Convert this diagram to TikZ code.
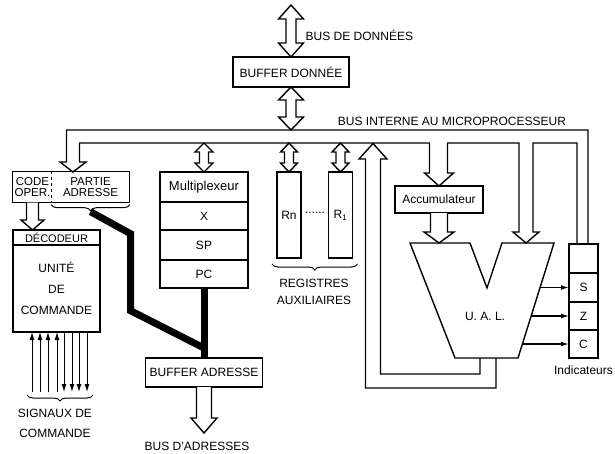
\documentclass[tikz,border=0pt]{standalone}
\usepackage{fontspec}
\setmainfont{Liberation Sans}
\usepackage{tikz}
\usetikzlibrary{calc,positioning,arrows.meta,decorations.pathreplacing}

% hollow double arrow: #1 top tip, #2 bottom tip, #3 half shaft, #4 half head, #5 head length
\newcommand{\dblbus}[5]{%
  \draw[fill=white] let \p1=(#1), \p2=(#2) in
    (\p1) -- (\x1+#4,\y1-#5) -- (\x1+#3,\y1-#5) -- (\x1+#3,\y2+#5)
    -- (\x1+#4,\y2+#5) -- (\x1,\y2) -- (\x1-#4,\y2+#5) -- (\x1-#3,\y2+#5)
    -- (\x1-#3,\y1-#5) -- (\x1-#4,\y1-#5) -- cycle;}
% hollow single arrow going down: #1 tail, #2 tip
\newcommand{\sglbus}[5]{%
  \draw[fill=white] let \p1=(#1), \p2=(#2) in
    (\x1-#3,\y1) -- (\x1-#3,\y2+#5) -- (\x1-#4,\y2+#5) -- (\x1,\y2)
    -- (\x1+#4,\y2+#5) -- (\x1+#3,\y2+#5) -- (\x1+#3,\y1);}

\begin{document}
\begin{tikzpicture}[x=1pt, y=-1pt, line width=1.4pt,
    font=\fontsize{12}{14}\selectfont,
    box/.style={draw, inner sep=0pt, outer sep=0pt, align=center},
    txt/.style={inner sep=0pt, align=center},
    flag/.style={-{Latex[length=8pt,width=5pt]}},
    addr/.style={line width=7pt},
    brc/.style={decorate, decoration={brace, amplitude=6pt}, line width=1pt}]
  \useasboundingbox (0,0) rectangle (615,453);

  % data bus
  \node[box, minimum width=116pt, minimum height=30pt] (bdd) at (291,72) {BUFFER DONNÉE};
  \coordinate (ext) at (291,5);
  \coordinate (busout) at (0,130);
  \coordinate (busin) at (0,143);
  \dblbus{ext}{bdd.north}{5pt}{12.5pt}{14pt}
  \dblbus{bdd.south}{bdd.south |- busout}{5pt}{12.5pt}{13pt}
  \node[txt, anchor=west] (lbdd) at (305,35) {BUS DE DONNÉES};
  \node[txt] (lbus) at (452,121) {BUS INTERNE AU MICROPROCESSEUR};

  % registre d'instruction
  \node[txt, minimum width=39pt, minimum height=30pt, font=\fontsize{11.5}{11.5}\selectfont] (code) at (32.5,187) {CODE\\OPER.};
  \node[txt, minimum width=77pt, minimum height=30pt, font=\fontsize{11.5}{11.5}\selectfont] (adr) at (90.5,187) {PARTIE\\ADRESSE};
  \draw (code.north west) rectangle (adr.south east);
  \draw[dashed, line width=0.8pt] (adr.north west) -- (adr.south west);
  \draw[brc] ($(adr.south east)+(0,2)$) -- ($(adr.south west)+(0,2)$);
  \coordinate (adrtip) at ($(adr.south)+(0,9)$);

  % unite de commande
  \node[box, minimum width=87pt, minimum height=15pt, font=\fontsize{11}{12}\selectfont] (dec) at (56.5,237.5) {DÉCODEUR};
  \node[box, minimum width=87pt, minimum height=87pt, below=0pt of dec, font=\fontsize{12}{21}\selectfont] (cu) {UNITÉ\\DE\\COMMANDE};
  \sglbus{code.south}{dec.north}{6pt}{11.5pt}{10pt}
  \coordinate (sigb) at (0,392);
  \foreach \x in {32,40,48,57}
    \draw[flag, line width=1pt] (sigb -| \x,0) -- (cu.south -| \x,0);
  \foreach \x in {64,72,79,87}
    \draw[flag, line width=1pt] (cu.south -| \x,0) -- (sigb -| \x,0);
  \draw[brc] (93,395) -- (27,395);
  \node[txt, font=\fontsize{12}{20}\selectfont] (lsig) at (55,423) {SIGNAUX DE\\COMMANDE};

  % multiplexeur
  \node[box, minimum width=88pt, minimum height=30pt, font=\fontsize{13}{14}\selectfont] (mux) at (204,187) {Multiplexeur};
  \node[box, minimum width=88pt, minimum height=28pt, below=0pt of mux] (regx) {X};
  \node[box, minimum width=88pt, minimum height=30pt, below=0pt of regx] (regsp) {SP};
  \node[box, minimum width=88pt, minimum height=28pt, below=0pt of regsp] (regpc) {PC};
  \dblbus{mux.north |- busin}{mux.north}{4.5pt}{9pt}{9pt}

  % registres auxiliaires
  \node[box, minimum width=24pt, minimum height=86pt] (rn) at (289,215) {Rn};
  \node[box, minimum width=24pt, minimum height=86pt] (r1) at (340.5,215) {R\textsubscript{1}};
  \node[txt] (dots) at (315,213) {......};
  \dblbus{rn.north |- busin}{rn.north}{4.5pt}{8.5pt}{9pt}
  \dblbus{r1.north |- busin}{r1.north}{4.5pt}{8.5pt}{9pt}
  \draw[brc] ($(r1.south east)+(5,6)$) -- ($(rn.south west)+(-5,6)$);
  \node[txt, font=\fontsize{12}{17}\selectfont] (lreg) at (314,292) {REGISTRES\\AUXILIAIRES};

  % buffer adresse
  \node[box, minimum width=117pt, minimum height=29pt] (bufa) at (204,372.5) {BUFFER ADRESSE};
  \coordinate (busa) at (204,433);
  \sglbus{bufa.south}{busa}{7.5pt}{13pt}{15pt}
  \node[txt] (lbusa) at (197,446) {BUS D'ADRESSES};
  \coordinate (pcjoin) at ($(regpc.south)!0.857!(bufa.north)$);
  \draw[addr] (adrtip) -- ++(40,22) -- ++(0,77) -- (pcjoin);
  \draw[addr] (regpc.south) -- (bufa.north);

  % accumulateur et UAL
  \node[box, minimum width=88pt, minimum height=27pt] (acc) at (439,199.5) {Accumulateur};
  \coordinate (uA) at (410,243);
  \coordinate (uB) at (470,243);
  \coordinate (uV) at (487,288);
  \coordinate (uC) at (502,243);
  \coordinate (uD) at (554,243);
  \coordinate (uE) at (518,358);
  \coordinate (uF) at (455,358);
  \draw[fill=white] (uA) -- (uB) -- (uV) -- (uC) -- (uD) -- (uE) -- (uF) -- cycle;
  \node[txt] (ual) at (485,316) {U. A. L.};
  \sglbus{acc.south}{acc.south |- uA}{8.5pt}{15pt}{11pt}

  % indicateurs
  \node[box, minimum width=29pt, minimum height=29pt] (ind0) at (583.5,258.5) {};
  \node[box, minimum width=29pt, minimum height=29pt, below=0pt of ind0] (inds) {S};
  \node[box, minimum width=29pt, minimum height=28pt, below=0pt of inds] (indz) {Z};
  \node[box, minimum width=29pt, minimum height=28pt, below=0pt of indz] (indc) {C};
  \node[txt, below=7pt of indc] (lind) {Indicateurs};
  \foreach \f in {inds,indz,indc}
    \draw[flag] (intersection of uD--uE and \f.west--\f.east) -- (\f.west);

  % bus interne
  \draw ($(ind0.north)+(4.5,0)$) -- (588,130) -- (66.5,130) -- (66.5,162) -- (60,162)
    -- (73,172) -- (86,162) -- (79.5,162) -- (79.5,143) -- (429.5,143) -- (429.5,173)
    -- (424.5,173) -- (acc.north) -- (453.5,173) -- (447.5,173) -- (447.5,143)
    -- (519,143) -- (519,232) -- (513,232) -- (526,243) -- (539,232) -- (533,232)
    -- (533,143) -- (577,143) -- ($(ind0.north)+(-6.5,0)$);
  % retour de l'UAL
  \draw (480,358) -- (480,374) -- (380.5,374) -- (380.5,159) -- (387,159) -- (373,143.5)
    -- (359,159) -- (365.5,159) -- (365.5,388) -- (496,388) -- (496,358);
\end{tikzpicture}
\end{document}
